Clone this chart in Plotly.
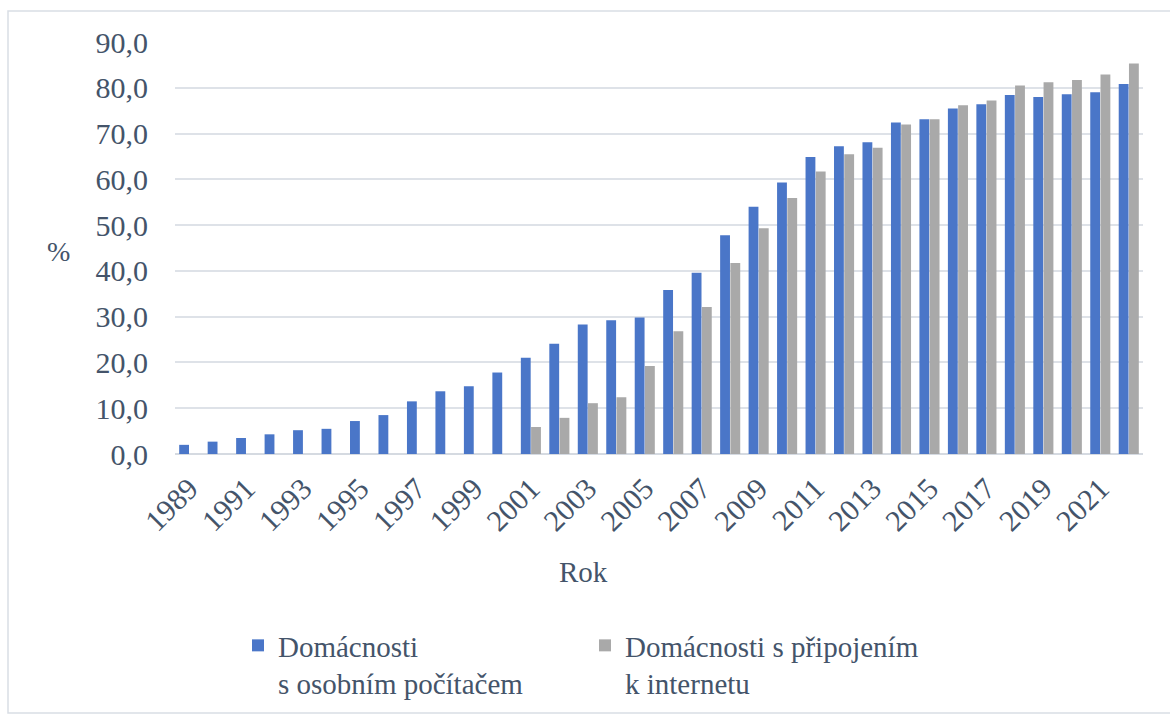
import plotly.graph_objects as go

years = list(range(1989, 2023))
pc = [2.0, 2.7, 3.5, 4.3, 5.2, 5.5, 7.2, 8.5, 11.5, 13.7, 14.8, 17.8, 21.0, 24.1,
      28.3, 29.2, 29.8, 35.8, 39.6, 47.8, 54.0, 59.3, 64.9, 67.2, 68.1, 72.4,
      73.1, 75.5, 76.4, 78.4, 78.0, 78.6, 79.0, 80.8]
internet = [None] * 12 + [5.9, 7.9, 11.1, 12.4, 19.2, 26.8, 32.1, 41.7, 49.3, 55.9,
                          61.7, 65.5, 66.9, 72.0, 73.1, 76.2, 77.2, 80.5, 81.2,
                          81.7, 82.9, 85.3]
tick_years = list(range(1989, 2022, 2))
series_names = ["Domácnosti<br>s osobním počítačem",
                "Domácnosti s připojením<br>k internetu"]

FONT = "'Liberation Serif', 'Times New Roman', serif"
TXT = "#44546A"

fig = go.Figure()
fig.add_bar(x=years, y=pc, name=series_names[0],
            marker=dict(color="#4A76C8", line=dict(width=0)))
fig.add_bar(x=years, y=internet, name=series_names[1],
            marker=dict(color="#A9A9A9", line=dict(width=0)))

W, H = 1170, 715
L, R, T, B = 175, 27, 42, 261
pw, ph = W - L - R, H - T - B

def px(x):
    return (x - L) / pw

def py(y):
    return (H - B - y) / ph

fig.update_layout(
    width=W, height=H,
    margin=dict(l=L, r=R, t=T, b=B, pad=0, autoexpand=False),
    paper_bgcolor="white", plot_bgcolor="white",
    barmode="group", bargap=0.28, bargroupgap=0.04,
    separators=", ",
    font=dict(family=FONT, color=TXT, size=28),
    showlegend=True,
    legend=dict(orientation="h", x=px(238), y=py(620), xanchor="left", yanchor="top",
                font=dict(family=FONT, size=29, color=TXT),
                entrywidth=302, entrywidthmode="pixels", valign="top",
                itemwidth=30, tracegroupgap=0, bgcolor="rgba(0,0,0,0)"),
    xaxis=dict(range=[1988.5, 2022.5], tickmode="array", tickvals=tick_years,
               ticktext=[str(y) for y in tick_years], tickangle=-45,
               showgrid=False, zeroline=False, showline=False, ticks="",
               automargin=False, ticklabelstandoff=10,
               tickfont=dict(family=FONT, size=30, color=TXT)),
    yaxis=dict(range=[0, 90], tickmode="linear", tick0=0, dtick=10,
               tickformat=".1f", showgrid=True, gridcolor="#DEE2E8", gridwidth=1.5,
               zeroline=True, zerolinecolor="#D5DAE1", zerolinewidth=2,
               showline=False, ticks="", ticklabelstandoff=26, automargin=False,
               tickfont=dict(family=FONT, size=30, color=TXT)),
    annotations=[
        dict(text="Rok", xref="paper", yref="paper", x=px(583), y=py(572),
             xanchor="center", yanchor="middle",
             showarrow=False, font=dict(family=FONT, size=29, color=TXT)),
        dict(text="%", xref="paper", yref="paper", x=px(58), y=py(251),
             xanchor="center", yanchor="middle",
             showarrow=False, font=dict(family=FONT, size=28, color=TXT)),
    ],
    shapes=[
        dict(type="rect", xref="paper", yref="paper",
             x0=px(8), x1=px(1180), y0=py(713), y1=py(11),
             line=dict(color="#D9DEE5", width=1.5), fillcolor="rgba(0,0,0,0)",
             layer="below"),
    ],
)

fig.write_html("out.html")
